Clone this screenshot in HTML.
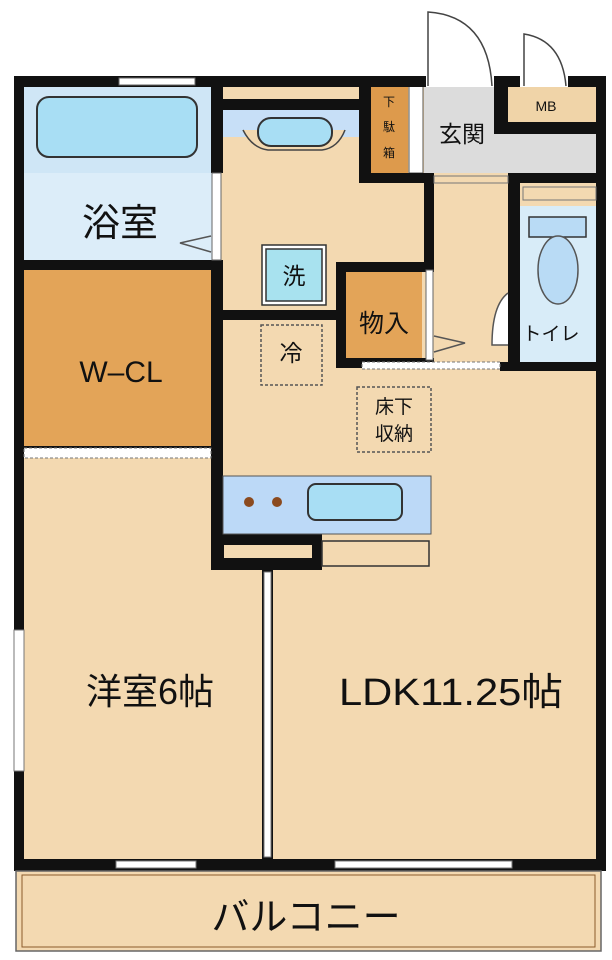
<!DOCTYPE html>
<html><head><meta charset="utf-8"><style>
html,body{margin:0;padding:0;background:#fff;}
svg{display:block;}
text{font-family:"Liberation Sans","Noto Sans CJK JP",sans-serif;fill:#111;}
</style></head><body>
<svg width="612" height="960" viewBox="0 0 612 960" xmlns="http://www.w3.org/2000/svg">
<rect width="612" height="960" fill="#fff"/>
<rect x="20" y="80" width="582" height="785" fill="#f3d9b1"/>
<rect x="24" y="86" width="189" height="87" fill="#cfe6f6"/>
<rect x="37" y="97" width="160" height="60" rx="12" fill="#a8def4" stroke="#333" stroke-width="2"/>
<rect x="24" y="173" width="189" height="87" fill="#dcedf9"/>
<rect x="24" y="270" width="189" height="176" fill="#e3a458"/>
<rect x="424" y="86" width="172" height="87" fill="#dcdcdc"/>
<rect x="508" y="86" width="88" height="36" fill="#f0d4a8"/>
<rect x="371" y="86" width="37" height="87" fill="#dd9a4c"/>
<rect x="409" y="86" width="14" height="87" fill="#fff" stroke="#555" stroke-width="1"/>
<rect x="223" y="110" width="136" height="27" fill="#c7dff7"/>
<path d="M243 130 Q252 148 268 150 L322 150 Q338 148 345 130" fill="#f3d9b1" stroke="#444" stroke-width="1.5"/>
<rect x="258" y="118" width="74" height="28" rx="13" fill="#a8def4" stroke="#333" stroke-width="2"/>
<rect x="520" y="206" width="76" height="161" fill="#d8ecf8"/>
<rect x="529" y="217" width="57" height="20" fill="#b9dbf5" stroke="#333" stroke-width="1.5"/>
<ellipse cx="558" cy="270" rx="20" ry="34" fill="#b9dbf5" stroke="#555" stroke-width="1.5"/>
<rect x="346" y="272" width="76" height="86" fill="#e3a458"/>
<g fill="#111">
<rect x="14" y="76" width="412" height="11"/>
<rect x="494" y="76" width="112" height="11"/>
<rect x="14" y="76" width="10" height="792"/>
<rect x="596" y="76" width="10" height="792"/>
<rect x="14" y="859" width="592" height="12"/>
<rect x="211" y="86" width="12" height="87"/>
<rect x="223" y="99" width="136" height="11"/>
<rect x="359" y="86" width="12" height="97"/>
<rect x="359" y="173" width="75" height="10"/>
<rect x="424" y="173" width="10" height="97"/>
<rect x="494" y="86" width="14" height="46"/>
<rect x="494" y="122" width="112" height="12"/>
<rect x="508" y="173" width="12" height="194"/>
<rect x="508" y="173" width="98" height="10"/>
<rect x="14" y="260" width="209" height="10"/>
<rect x="211" y="260" width="12" height="310"/>
<rect x="223" y="310" width="121" height="10"/>
<rect x="336" y="262" width="98" height="10"/>
<rect x="336" y="262" width="10" height="106"/>
<rect x="336" y="358" width="98" height="10"/>
<rect x="500" y="362" width="106" height="9"/>
<rect x="14" y="446" width="199" height="4"/>
<rect x="211" y="534" width="111" height="36"/>
<rect x="262" y="565" width="11" height="300"/>
</g>
<rect x="119" y="78" width="76" height="7" fill="#fff" stroke="#666" stroke-width="1"/>
<rect x="212" y="173" width="9" height="87" fill="#fff" stroke="#666" stroke-width="1"/>
<path d="M211 236 L180 243 L211 252" fill="none" stroke="#555" stroke-width="1.5"/>
<rect x="24" y="448" width="187" height="10" fill="#fff" stroke="#777" stroke-width="1" stroke-dasharray="3 2"/>
<rect x="426" y="270" width="7" height="90" fill="#fff" stroke="#666" stroke-width="1"/>
<path d="M434 336 L465 343 L434 352" fill="none" stroke="#555" stroke-width="1.5"/>
<rect x="362" y="362" width="138" height="7" fill="#fff" stroke="#777" stroke-width="1" stroke-dasharray="3 2"/>
<rect x="434" y="176" width="74" height="7" fill="#f3d9b1" stroke="#777" stroke-width="1"/>
<rect x="523" y="187" width="73" height="13" fill="#f3d9b1" stroke="#777" stroke-width="1"/>
<path d="M508 293 Q492 305 492 345 L508 345" fill="#fff" stroke="#555" stroke-width="1.5"/>
<rect x="264" y="572" width="7" height="285" fill="#fff" stroke="#777" stroke-width="1"/>
<rect x="14" y="630" width="10" height="141" fill="#fff" stroke="#777" stroke-width="1"/>
<rect x="116" y="861" width="80" height="7" fill="#fff" stroke="#777" stroke-width="1"/>
<rect x="335" y="861" width="177" height="7" fill="#fff" stroke="#777" stroke-width="1"/>
<rect x="426" y="76" width="68" height="11" fill="#fff"/>
<path d="M428 86 L428 12 Q488 16 492 86" fill="none" stroke="#444" stroke-width="1.5"/>
<rect x="520" y="76" width="48" height="11" fill="#fff"/>
<path d="M524 86 L524 34 Q562 40 566 86" fill="none" stroke="#444" stroke-width="1.5"/>
<rect x="262" y="245" width="64" height="60" fill="#fff" stroke="#333" stroke-width="1.5"/>
<rect x="266" y="249" width="56" height="52" fill="#a8e2ef" stroke="#333" stroke-width="1.5"/>
<rect x="261" y="325" width="61" height="60" fill="none" stroke="#555" stroke-width="1.5" stroke-dasharray="3 2"/>
<rect x="357" y="387" width="74" height="65" fill="none" stroke="#555" stroke-width="1.5" stroke-dasharray="3 2"/>
<rect x="223" y="476" width="208" height="58" fill="#bcd9f7" stroke="#555" stroke-width="1"/>
<circle cx="249" cy="502" r="5" fill="#8b4a1e"/>
<circle cx="277" cy="502" r="5" fill="#8b4a1e"/>
<rect x="308" y="484" width="94" height="36" rx="8" fill="#a8def4" stroke="#333" stroke-width="2"/>
<rect x="224" y="545" width="88" height="13" fill="#f3d9b1"/>
<rect x="322" y="541" width="107" height="25" fill="#f3d9b1" stroke="#333" stroke-width="1.5"/>
<rect x="16" y="871" width="585" height="80" fill="#f3d9b1" stroke="#666" stroke-width="1.5"/>
<rect x="22" y="875" width="573" height="72" fill="none" stroke="#8b5a2b" stroke-width="1"/>
<text x="120" y="236" font-size="38" text-anchor="middle">浴室</text>
<text x="121" y="382" font-size="30" text-anchor="middle">W–CL</text>
<text x="294" y="284" font-size="23" text-anchor="middle">洗</text>
<text x="291" y="361" font-size="23" text-anchor="middle">冷</text>
<text x="384" y="332" font-size="25" text-anchor="middle">物入</text>
<text x="389" y="106" font-size="12" text-anchor="middle">下</text>
<text x="389" y="131" font-size="12" text-anchor="middle">駄</text>
<text x="389" y="157" font-size="12" text-anchor="middle">箱</text>
<text x="462" y="142" font-size="23" text-anchor="middle">玄関</text>
<text x="546" y="111" font-size="14" text-anchor="middle">MB</text>
<text x="551" y="340" font-size="19" text-anchor="middle">トイレ</text>
<text x="394" y="413" font-size="19" text-anchor="middle">床下</text>
<text x="394" y="440" font-size="19" text-anchor="middle">収納</text>
<text x="150" y="704" font-size="36" text-anchor="middle">洋室6帖</text>
<text x="451" y="705" font-size="38" text-anchor="middle" textLength="224" lengthAdjust="spacingAndGlyphs">LDK11.25帖</text>
<text x="306" y="930" font-size="38" text-anchor="middle">バルコニー</text>
</svg>
</body></html>
